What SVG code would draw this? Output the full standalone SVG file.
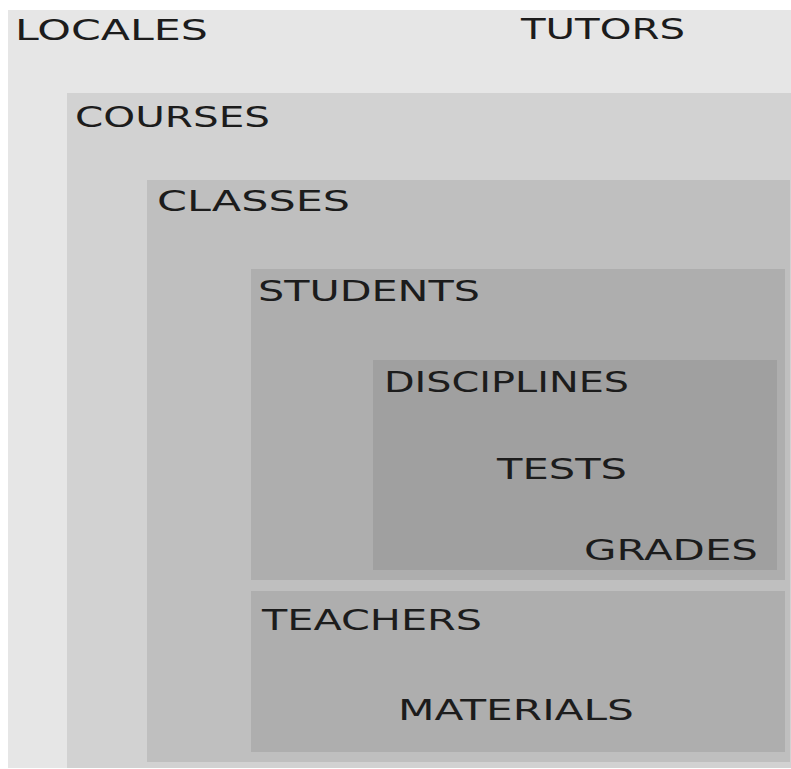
<svg xmlns="http://www.w3.org/2000/svg" width="791" height="769" viewBox="0 0 791 769">
  <style>
    .lbl { font-family: "DejaVu Sans", "Liberation Sans", sans-serif; font-size: 29px; fill: #1c1c1c; lengthAdjust: spacingAndGlyphs; }
  </style>
  <rect x="0" y="0" width="791" height="769" fill="#ffffff"/>
  <g id="locales">
    <rect x="8" y="10" width="783" height="758" fill="#e6e6e6"/>
    <text class="lbl" x="15" y="40" textLength="193" lengthAdjust="spacingAndGlyphs">LOCALES</text>
  </g>
  <g id="tutors">
    <text class="lbl" x="521" y="39" textLength="164" lengthAdjust="spacingAndGlyphs">TUTORS</text>
  </g>
  <g id="courses">
    <rect x="67" y="93" width="724" height="675" fill="#d2d2d2"/>
    <text class="lbl" x="75" y="127" textLength="195" lengthAdjust="spacingAndGlyphs">COURSES</text>
  </g>
  <g id="classes">
    <rect x="147" y="180" width="643" height="582" fill="#bfbfbf"/>
    <text class="lbl" x="157" y="211" textLength="193" lengthAdjust="spacingAndGlyphs">CLASSES</text>
  </g>
  <g id="students">
    <rect x="251" y="269" width="534" height="311" fill="#aeaeae"/>
    <text class="lbl" x="258" y="301" textLength="222" lengthAdjust="spacingAndGlyphs">STUDENTS</text>
  </g>
  <g id="disciplines">
    <rect x="373" y="360" width="404" height="210" fill="#a0a0a0"/>
    <text class="lbl" x="384" y="392" textLength="245" lengthAdjust="spacingAndGlyphs">DISCIPLINES</text>
  </g>
  <g id="tests">
    <text class="lbl" x="497" y="479" textLength="130" lengthAdjust="spacingAndGlyphs">TESTS</text>
  </g>
  <g id="grades">
    <text class="lbl" x="584" y="560" textLength="174" lengthAdjust="spacingAndGlyphs">GRADES</text>
  </g>
  <g id="teachers">
    <rect x="251" y="591" width="534" height="161" fill="#aeaeae"/>
    <text class="lbl" x="262" y="630" textLength="220" lengthAdjust="spacingAndGlyphs">TEACHERS</text>
  </g>
  <g id="materials">
    <text class="lbl" x="398" y="720" textLength="236" lengthAdjust="spacingAndGlyphs">MATERIALS</text>
  </g>
  <g id="connectors"/>
</svg>
